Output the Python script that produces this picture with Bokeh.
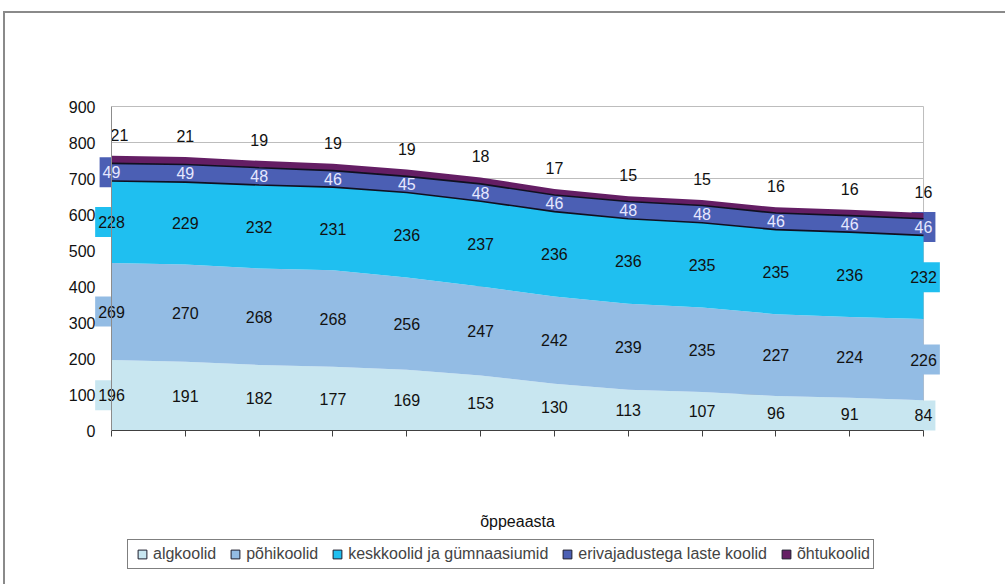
import numpy as np
from bokeh.plotting import figure
from bokeh.models import (ColumnDataSource, Range1d, FixedTicker, Legend, LegendItem,
                          CDSView, IndexFilter, Label)
from bokeh.core.properties import value
from bokeh.embed import file_html
from bokeh.resources import INLINE

# ---------------- data ----------------
series_names = ["algkoolid", "põhikoolid", "keskkoolid ja gümnaasiumid",
                "erivajadustega laste koolid", "õhtukoolid"]
algkoolid = [196, 191, 182, 177, 169, 153, 130, 113, 107, 96, 91, 84]
pohikoolid = [269, 270, 268, 268, 256, 247, 242, 239, 235, 227, 224, 226]
keskkoolid = [228, 229, 232, 231, 236, 237, 236, 236, 235, 235, 236, 232]
erivajadustega = [49, 49, 48, 46, 45, 48, 46, 48, 48, 46, 46, 46]
ohtukoolid = [21, 21, 19, 19, 19, 18, 17, 15, 15, 16, 16, 16]
y_ticks = [0, 100, 200, 300, 400, 500, 600, 700, 800, 900]
x_axis_title = "õppeaasta"

series = [algkoolid, pohikoolid, keskkoolid, erivajadustega, ohtukoolid]
colors = ["#C8E6F0", "#93BCE4", "#1FBFF0", "#4B5FB4", "#641E64"]
label_colors = ["#111111", "#111111", "#111111", "#E6E8FF", "#111111"]
FONT = "Liberation Sans"

n = len(algkoolid)
x = list(range(n))
data = {"x": x}
cum = np.zeros(n)
for i, s in enumerate(series):
    arr = np.array(s, dtype=float)
    data[f"s{i}"] = arr
    data[f"b{i}"] = cum.copy()
    data[f"t{i}"] = cum + arr
    data[f"m{i}"] = cum + arr / 2
    data[f"lab{i}"] = [str(v) for v in s]
    cum = cum + arr
# nudge the first top label inward like the original
data["dx"] = [8 if i == 0 else 0 for i in range(n)]
src = ColumnDataSource(data)

# ---------------- layout (pixels) ----------------
W, H = 1002, 573
PX_X = 73.82          # pixels per category step
PX_Y = 0.36           # pixels per unit
LEFT, RIGHT, TOP, BOTTOM = 50, 40, 60, 16
x0_px = 56            # distance from frame left to first category
top_px = 93           # canvas pixel row of the top gridline
frame_w = W - LEFT - RIGHT
frame_h = H - TOP - BOTTOM
x_start = -x0_px / PX_X
x_end = x_start + frame_w / PX_X
y_end = y_ticks[-1] + (top_px - TOP) / PX_Y
y_start = y_end - frame_h / PX_Y

p = figure(width=W, height=H,
           x_range=Range1d(x_start, x_end), y_range=Range1d(y_start, y_end),
           output_backend="svg", toolbar_location=None,
           min_border_left=LEFT, min_border_right=RIGHT,
           min_border_top=TOP, min_border_bottom=BOTTOM)
p.outline_line_color = None
p.xgrid.visible = False
p.ygrid.visible = False
p.background_fill_color = "white"
p.border_fill_color = "white"
p.styles = {"margin-left": "5px", "margin-top": "13px",
            "box-shadow": "-2px -2px 0px 0px #8a8a8a"}

# gridlines across the category span, and right border of the plot area
p.segment(x0=[0] * len(y_ticks), x1=[n - 1] * len(y_ticks), y0=y_ticks, y1=y_ticks,
          line_color="#BDBDBD", line_width=1)
p.segment(x0=[n - 1], x1=[n - 1], y0=[y_ticks[0]], y1=[y_ticks[-1]],
          line_color="#BDBDBD", line_width=1)

# label boxes (drawn under the areas; visible only outside the area at the edges)
edge_view = CDSView(filter=IndexFilter([0, n - 1]))
for i in range(4):
    p.text(x="x", y=f"m{i}", text=f"lab{i}", source=src, view=edge_view,
           text_alpha=0, text_font=value(FONT), text_font_size="16px",
           text_align="center", text_baseline="middle",
           background_fill_color=colors[i], padding=dict(x=3, y=9))

# stacked areas
for i in range(len(series)):
    p.varea(x="x", y1=f"b{i}", y2=f"t{i}", source=src, fill_color=colors[i])

p.line(x="x", y="t2", source=src, line_color="#101020", line_width=1.6)
p.line(x="x", y="t3", source=src, line_color="#101020", line_width=1.6)

# data labels
for i in range(4):
    p.text(x="x", y=f"m{i}", text=f"lab{i}", source=src,
           text_color=label_colors[i], text_font=value(FONT), text_font_size="16px",
           text_align="center", text_baseline="middle")
p.text(x="x", y="t4", text="lab4", source=src, x_offset="dx", y_offset=-21,
       text_color=label_colors[4], text_font=value(FONT), text_font_size="16px",
       text_align="center", text_baseline="middle")

# axes
ya = p.yaxis[0]
ya.fixed_location = 0
ya.ticker = FixedTicker(ticks=y_ticks)
ya.bounds = (y_ticks[0], y_ticks[-1])
ya.major_tick_line_color = None
ya.minor_tick_line_color = None
ya.axis_line_color = "#8C8C8C"
ya.major_label_text_font = FONT
ya.major_label_text_font_size = "16px"
ya.major_label_text_color = "#111111"
ya.major_label_standoff = 10

xa = p.xaxis[0]
xa.fixed_location = 0
xa.ticker = FixedTicker(ticks=x)
xa.bounds = (0, n - 1)
xa.major_tick_out = 6
xa.major_tick_in = 0
xa.minor_tick_line_color = None
xa.axis_line_color = "#404040"
xa.major_tick_line_color = "#404040"
xa.major_label_text_color = None
xa.major_label_text_font_size = "1px"
xa.major_label_standoff = 0

# x-axis title
p.add_layout(Label(x=(n - 1) / 2, y=0, y_offset=-91, text=x_axis_title,
                   text_align="center", text_baseline="middle",
                   text_font=FONT, text_font_size="16px", text_color="#111111"))

# legend with outlined square swatches (proxy renderers hold no visible data)
items = []
for i, name in enumerate(series_names):
    r = p.scatter(x=[np.nan], y=[np.nan], marker="square", size=9,
                  fill_color=colors[i], line_color="#1c1c2c", line_width=1)
    items.append(LegendItem(label=name, renderers=[r]))
legend = Legend(items=items, orientation="horizontal", location=(72, 1),
                border_line_color="black", border_line_width=1.8,
                label_text_font=FONT, label_text_font_size="16px",
                glyph_width=22, glyph_height=22, label_standoff=0, spacing=8,
                padding=3, background_fill_color="white")
p.add_layout(legend, "center")

open("out.html", "w").write(file_html(p, INLINE))
